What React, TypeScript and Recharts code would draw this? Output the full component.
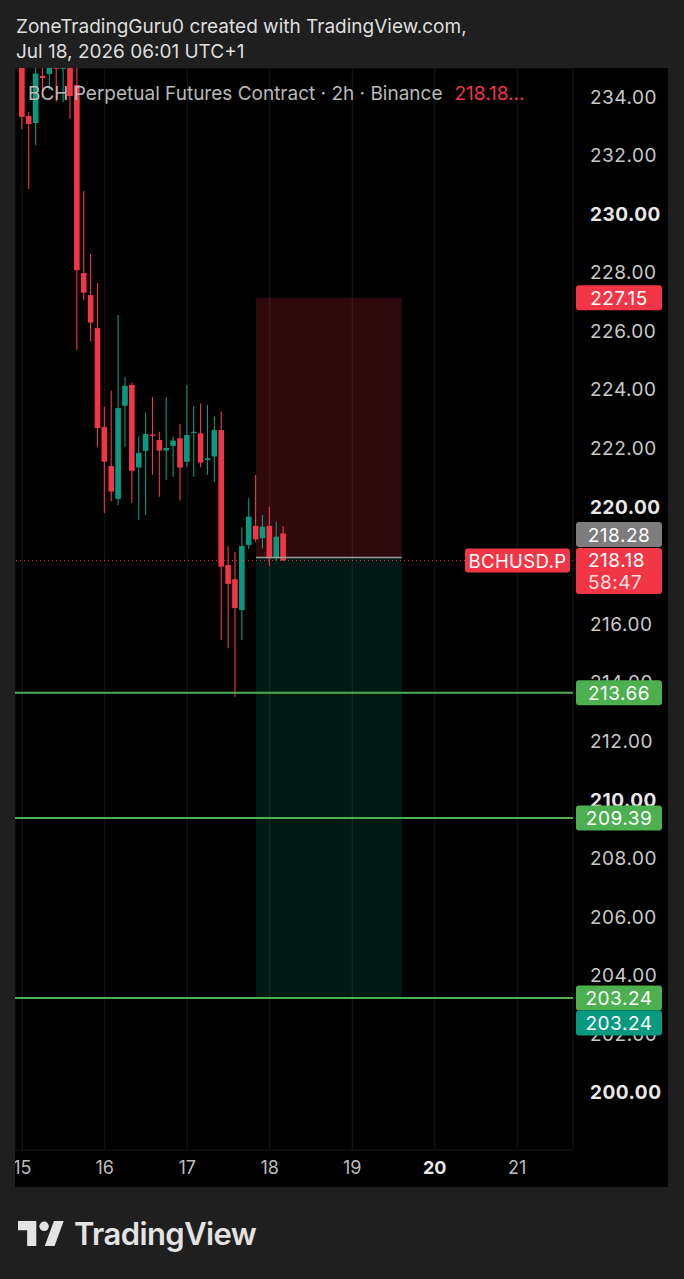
import React from 'react';
import { ComposedChart, Bar, XAxis, YAxis, CartesianGrid, ReferenceLine, ReferenceArea } from 'recharts';

// ---- data (2h candles, BCH perp) ----
const barLabels = [
  '15 00','15 02','15 04','15 06','15 08','15 10','15 12','15 14','15 16','15 18','15 20','15 22',
  '16 00','16 02','16 04','16 06','16 08','16 10','16 12','16 14','16 16','16 18','16 20','16 22',
  '17 00','17 02','17 04','17 06','17 08','17 10','17 12','17 14','17 16','17 18','17 20','17 22',
  '18 00','18 02','18 04',
];
const opens = [235.6, 233.35, 233.11, 234.72, 234.79, 235.1, 234.96, 235.3, 234.41, 227.99, 227.24, 226.11, 222.73, 221.4, 220.28, 223.46, 224.17, 221.35, 221.92, 222.48, 222.29, 221.93, 222.09, 222.35, 221.55, 222.53, 222.52, 221.61, 221.73, 222.63, 218.02, 217.54, 216.49, 218.71, 219.36, 218.94, 219.36, 218.25, 219.1];
const highs = [236.2, 233.49, 235.3, 235.2, 235.4, 235.3, 235.5, 235.6, 235.2, 230.79, 228.64, 227.65, 223.43, 223.97, 226.56, 224.45, 224.25, 222.41, 223.23, 223.76, 222.57, 223.76, 222.41, 222.84, 224.17, 223.45, 223.54, 223.49, 223.09, 223.26, 218.67, 218.48, 219.31, 220.3, 221.1, 219.73, 220.01, 219.5, 219.35];
const lows = [232.91, 230.86, 232.35, 233.97, 234.24, 233.83, 233.83, 233.25, 225.36, 227.07, 225.65, 222.05, 219.8, 220.19, 220.07, 222.06, 220.14, 219.56, 219.73, 221.1, 220.35, 220.93, 221.03, 220.22, 221.36, 221.04, 221.36, 221.1, 220.86, 215.46, 215.18, 213.53, 215.46, 218.56, 218.82, 218.59, 217.99, 218.17, 218.17];
const closes = [233.32, 233.08, 234.8, 234.65, 235.1, 234.96, 235.2, 234.03, 228.09, 227.32, 226.3, 222.7, 221.55, 220.53, 223.38, 224.14, 221.24, 221.85, 222.5, 222.43, 221.93, 222.02, 222.27, 221.35, 222.46, 222.57, 221.52, 221.67, 222.63, 217.97, 217.38, 216.55, 218.67, 219.67, 218.9, 219.33, 218.25, 218.99, 218.18];

const dayTicks = [0, 12, 24, 36, 48, 60, 72];
const dayLabels = ['15', '16', '17', '18', '19', '20', '21'];
const boldDays = ['20'];
const priceTicks = [200, 202, 204, 206, 208, 210, 212, 214, 216, 218, 220, 222, 224, 226, 228, 230, 232, 234];

const stopLevel = 227.15;
const entryLevel = 218.28;
const lastPrice = 218.18;
const countdown = '58:47';
const targetLevels = [213.66, 209.39, 203.24];
const positionStart = 34;
const positionEnd = 55.2;
const symbol = 'BCHUSD.P';

const RED = '#f23645';
const GREEN = '#089981';
const LEVEL = '#4caf50';
const FONT = 'Inter, "Noto Sans", sans-serif';

const data = barLabels.map((t, i) => ({
  i,
  t,
  open: opens[i],
  high: highs[i],
  low: lows[i],
  close: closes[i],
}));

const Candle = (props: any) => {
  const { x, y, width, height, payload } = props;
  const { open, close, high, low } = payload;
  const ppu = height / (high - low);
  const cx = x + width / 2;
  const yOf = (v: number) => y + (high - v) * ppu;
  const up = close >= open;
  const color = up ? GREEN : RED;
  const top = yOf(Math.max(open, close));
  const bot = yOf(Math.min(open, close));
  const bw = 5.6;
  return (
    <g>
      <line x1={cx} x2={cx} y1={y} y2={y + height} stroke={color} strokeWidth={1.1} />
      <rect x={cx - bw / 2} y={top} width={bw} height={Math.max(bot - top, 1.2)} fill={color} />
    </g>
  );
};

const tickLabel = (value: number) => (p: any) => {
  const vb = p.viewBox;
  const bold = value % 10 === 0;
  return (
    <text x={vb.x + vb.width + 17} y={vb.y} dominantBaseline="central" fill={bold ? '#e8e8e8' : '#c9c9c9'}
      fontWeight={bold ? 700 : 400} fontSize={19} fontFamily={FONT} letterSpacing={0.5}>
      {value.toFixed(2)}
    </text>
  );
};

const XTick = (props: any) => {
  const { x, y, payload } = props;
  const label = dayLabels[dayTicks.indexOf(payload.value)];
  const bold = boldDays.includes(label);
  return (
    <text x={x} y={y + 17} textAnchor="middle" dominantBaseline="central" fill={bold ? '#e8e8e8' : '#bdbdbd'}
      fontWeight={bold ? 700 : 400} fontSize={18} fontFamily={FONT}>
      {label}
    </text>
  );
};

const PriceBox = ({ vx, cy, text, fill, h = 25 }: any) => (
  <g>
    <rect x={vx + 3} y={cy - h / 2} width={86} height={h} rx={3} fill={fill} />
    <text x={vx + 46} y={cy + 0.5} textAnchor="middle" dominantBaseline="central" fill="#ffffff"
      fontSize={19} fontFamily={FONT} letterSpacing={0.5}>{text}</text>
  </g>
);

const boxLabel = (text: string, fill: string, shift = 0) => (p: any) => {
  const vb = p.viewBox;
  return <PriceBox vx={vb.x + vb.width} cy={vb.y + shift} text={text} fill={fill} />;
};

const lastPriceLabel = (p: any) => {
  const vb = p.viewBox;
  const vx = vb.x + vb.width;
  const cy = vb.y;
  return (
    <g>
      <rect x={vx - 108} y={cy - 12} width={105} height={24} rx={3} fill={RED} />
      <text x={vx - 55.5} y={cy + 0.5} textAnchor="middle" dominantBaseline="central" fill="#fff"
        fontSize={18.5} fontFamily={FONT} letterSpacing={0.4}>{symbol}</text>
      <rect x={vx + 3} y={cy - 12.5} width={86} height={46} rx={3} fill={RED} />
      <text x={vx + 15} y={cy + 0.5} dominantBaseline="central" fill="#fff" fontSize={19} fontFamily={FONT} letterSpacing={0.5}>
        {lastPrice.toFixed(2)}
      </text>
      <text x={vx + 15} y={cy + 22} dominantBaseline="central" fill="#fde0e2" fontSize={19} fontFamily={FONT} letterSpacing={0.5}>
        {countdown}
      </text>
    </g>
  );
};

export default function App() {
  return (
    <div style={{ position: 'absolute', left: 0, top: 0, width: 684, height: 1279, background: '#1f1f1f', fontFamily: FONT, overflow: 'hidden' }}>
      <div style={{ position: 'absolute', left: 16, top: 14, color: '#dedede', fontSize: 19, lineHeight: '25px', whiteSpace: 'nowrap' }}>
        <div>ZoneTradingGuru0 created with TradingView.com,</div>
        <div>Jul 18, 2026 06:01 UTC+1</div>
      </div>
      <div style={{ position: 'absolute', left: 15, top: 68, width: 653, height: 1119, background: '#000', overflow: 'hidden' }}>
        <ComposedChart width={653} height={1119} data={data} margin={{ top: 0, right: 0, bottom: 0, left: 0 }}>
          <CartesianGrid stroke="#181818" strokeWidth={1} />
          <XAxis dataKey="i" type="number" domain={[-1.062, 80.11]} allowDataOverflow ticks={dayTicks}
            tick={<XTick />} tickLine={false} axisLine={false} tickSize={0} tickMargin={0} height={37} interval={0} />
          <YAxis orientation="right" type="number" domain={[198.054, 234.99]} allowDataOverflow ticks={priceTicks}
            tick={false} tickLine={false} axisLine={false} tickSize={0} tickMargin={0} width={95} interval={0} />
          <ReferenceArea x1={positionStart} x2={positionEnd} y1={entryLevel} y2={stopLevel} fill={RED} fillOpacity={0.19} stroke="none" />
          <ReferenceArea x1={positionStart} x2={positionEnd} y1={targetLevels[2]} y2={entryLevel} fill={GREEN} fillOpacity={0.17} stroke="none" />
          <Bar dataKey={(d: any) => [d.low, d.high]} shape={<Candle />} barSize={6} isAnimationActive={false} />
          {priceTicks.map((v) => (
            <ReferenceLine key={'tick' + v} y={v} stroke="none" label={tickLabel(v)} />
          ))}
          <ReferenceLine segment={[{ x: positionStart, y: entryLevel }, { x: positionEnd, y: entryLevel }]} stroke="#9a9a9a" strokeWidth={1.5} />
          <ReferenceLine y={lastPrice} stroke={RED} strokeWidth={1} strokeDasharray="1 3" label={lastPriceLabel} />
          {targetLevels.map((lv) => (
            <ReferenceLine key={lv} y={lv} stroke={LEVEL} strokeWidth={2} label={boxLabel(lv.toFixed(2), LEVEL)} />
          ))}
          <ReferenceLine y={targetLevels[2]} stroke="none" label={boxLabel(targetLevels[2].toFixed(2), GREEN, 25)} />
          <ReferenceLine y={stopLevel} stroke="none" label={boxLabel(stopLevel.toFixed(2), RED)} />
          <ReferenceLine y={entryLevel} stroke="none" label={boxLabel(entryLevel.toFixed(2), '#7d7d7d', -23)} />
        </ComposedChart>
        <div style={{ position: 'absolute', left: 13, top: 14, fontSize: 19, color: '#b9b9b9', whiteSpace: 'nowrap', lineHeight: '24px' }}>
          BCH Perpetual Futures Contract · 2h · Binance<span style={{ color: RED, marginLeft: 12 }}>218.18...</span>
        </div>
      </div>
      <svg style={{ position: 'absolute', left: 18, top: 1221 }} width={47} height={25} viewBox="0 0 36 19">
        <path d="M14 19H7V7H0V0h14v19z" fill="#e3e3e3" />
        <circle cx="20" cy="4" r="3.6" fill="#e3e3e3" />
        <path d="M28 19h-7.5L27.5 0H35L28 19z" fill="#e3e3e3" />
      </svg>
      <div style={{ position: 'absolute', left: 74, top: 1214, fontSize: 31, fontWeight: 600, color: '#e3e3e3', letterSpacing: -0.6, lineHeight: '40px' }}>
        TradingView
      </div>
    </div>
  );
}
